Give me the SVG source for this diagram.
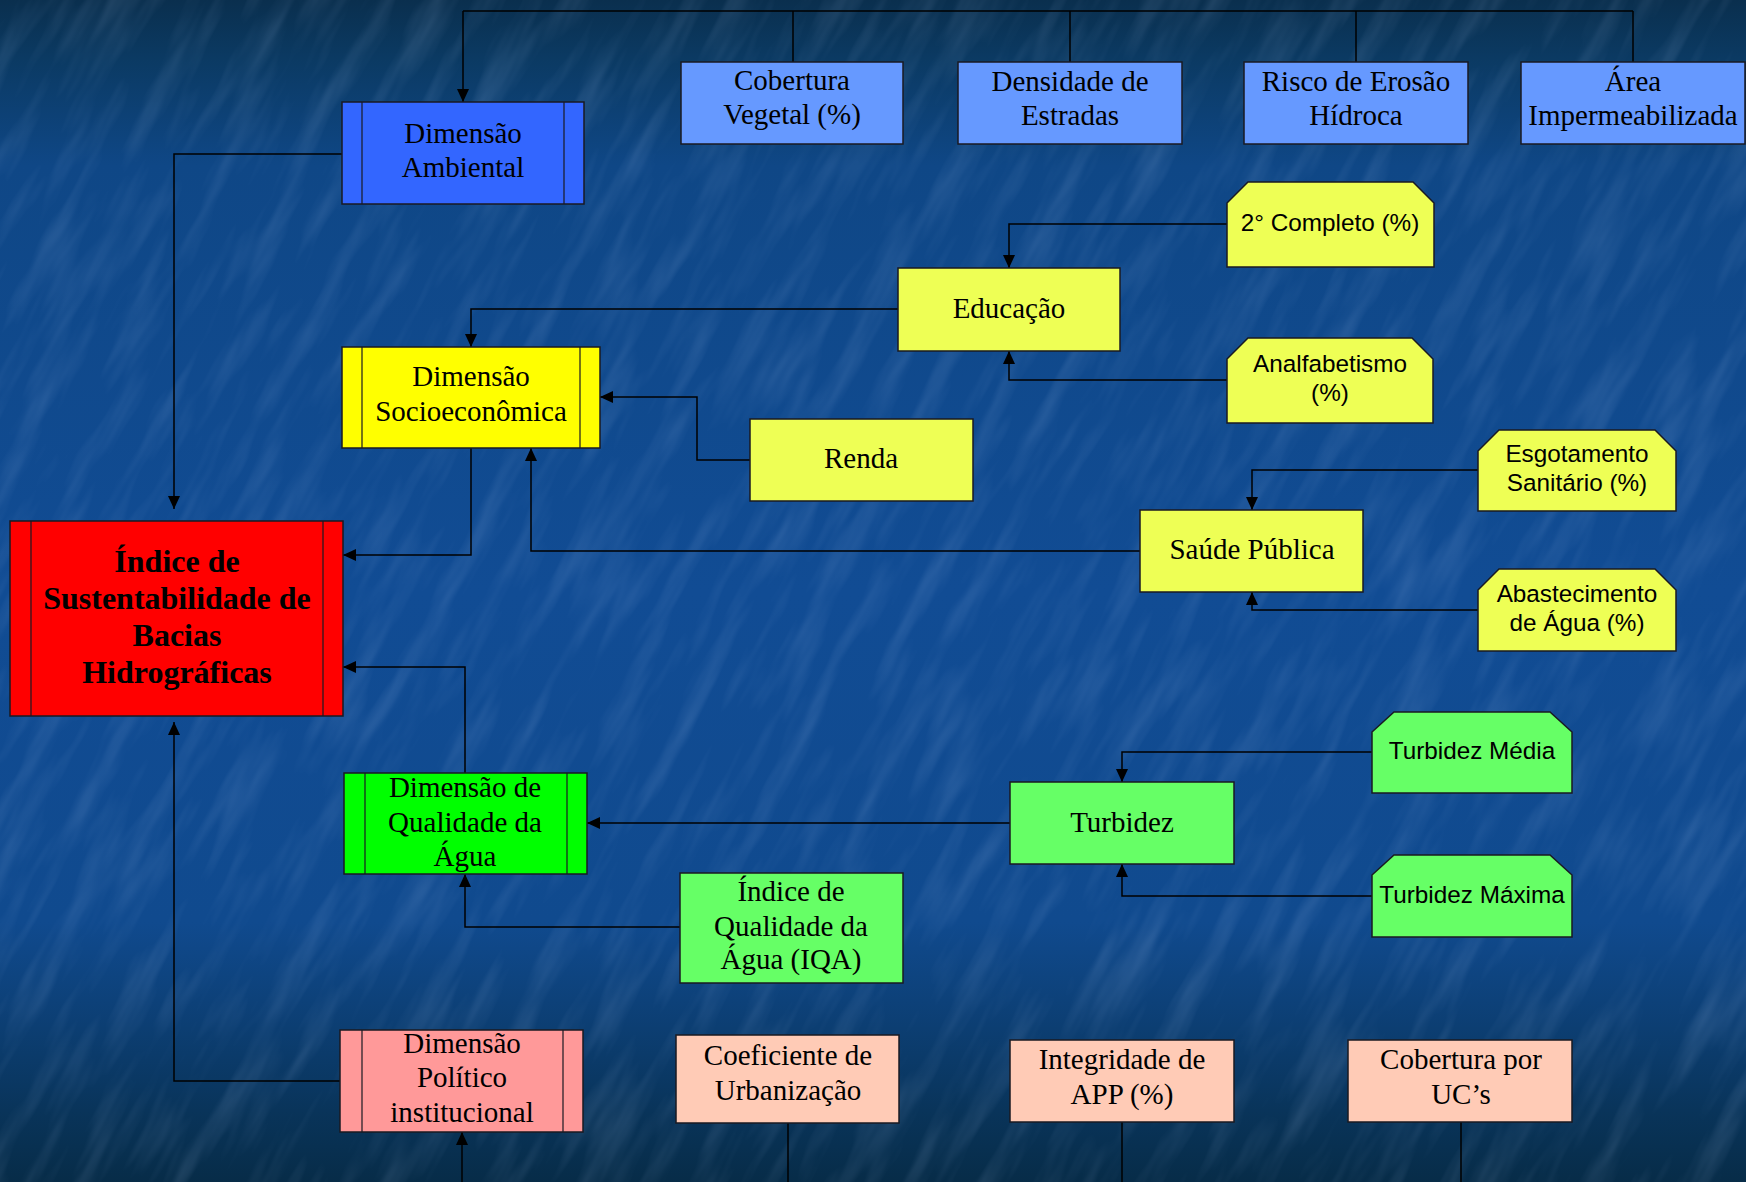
<svg xmlns="http://www.w3.org/2000/svg" width="1746" height="1182" viewBox="0 0 1746 1182">
<defs>
<linearGradient id="bg" x1="0" y1="0" x2="0" y2="1">
<stop offset="0" stop-color="#0a2f4e"/>
<stop offset="0.05" stop-color="#0b3a63"/>
<stop offset="0.14" stop-color="#0f4786"/>
<stop offset="0.5" stop-color="#114c94"/>
<stop offset="0.78" stop-color="#104a8e"/>
<stop offset="0.87" stop-color="#0c3e72"/>
<stop offset="0.94" stop-color="#09345a"/>
<stop offset="1" stop-color="#072c48"/>
</linearGradient>
<filter id="tex" x="0" y="0" width="100%" height="100%">
<feTurbulence type="fractalNoise" baseFrequency="0.045 0.008" numOctaves="3" seed="4"/>
<feColorMatrix type="matrix" values="0 0 0 0 0.55  0 0 0 0 0.7  0 0 0 0 1  0 0 0 1.4 -0.62"/>
</filter>
<marker id="ah" markerUnits="userSpaceOnUse" markerWidth="13" markerHeight="12" refX="13" refY="6" orient="auto">
<path d="M0,0 L13,6 L0,12 z" fill="#000"/>
</marker>
<style>
.box{stroke:#1a1a22;stroke-width:1.5}
.in{stroke:#1a1a22;stroke-width:1.2;fill:none}
.s{font-family:"Liberation Serif","Times New Roman",serif;font-size:29px;fill:#000;text-anchor:middle}
.b{font-family:"Liberation Serif","Times New Roman",serif;font-size:32px;font-weight:bold;fill:#000;text-anchor:middle}
.a{font-family:"Liberation Sans",Arial,sans-serif;font-size:24.3px;fill:#000;text-anchor:middle}
.c{fill:none;stroke:#000;stroke-width:1.5}
.ca{fill:none;stroke:#000;stroke-width:1.5;marker-end:url(#ah)}
</style>
</defs>
<rect width="1746" height="1182" fill="url(#bg)"/>
<g transform="rotate(28 873 591)" opacity="0.2">
<rect x="-600" y="-600" width="2946" height="2382" filter="url(#tex)"/>
</g>

<g id="connectors">
<path class="c" d="M463,11 H1633"/>
<path class="c" d="M793,11 V62 M1070,11 V62 M1356,11 V62 M1633,11 V62"/>
<path class="ca" d="M463,11 V102"/>
<path class="ca" d="M342,154 H174 V509"/>
<path class="ca" d="M471,448 V555 H343"/>
<path class="ca" d="M465,773 V667 H343"/>
<path class="ca" d="M898,309 H471 V347"/>
<path class="ca" d="M750,460 H697 V397 H600"/>
<path class="ca" d="M1140,551 H531 V448"/>
<path class="ca" d="M1227,224 H1009 V268"/>
<path class="ca" d="M1227,380 H1009 V351"/>
<path class="ca" d="M1478,470 H1252 V510"/>
<path class="ca" d="M1478,610 H1252 V592"/>
<path class="ca" d="M1010,823 H587"/>
<path class="ca" d="M680,927 H465 V874"/>
<path class="ca" d="M1372,752 H1122 V782"/>
<path class="ca" d="M1372,896 H1122 V864"/>
<path class="ca" d="M340,1081 H174 V722"/>
<path class="ca" d="M462,1182 V1132"/>
<path class="c" d="M788,1123 V1182 M1122,1122 V1182 M1461,1122 V1182"/>
</g>

<g id="cobertura-vegetal"><rect class="box" x="681" y="62" width="222" height="82" fill="#6699ff"/><text class="s" x="792" y="90">Cobertura</text><text class="s" x="792" y="124">Vegetal (%)</text></g>
<g id="densidade-estradas"><rect class="box" x="958" y="62" width="224" height="82" fill="#6699ff"/><text class="s" x="1070" y="91">Densidade de</text><text class="s" x="1070" y="125">Estradas</text></g>
<g id="risco-erosao"><rect class="box" x="1244" y="62" width="224" height="82" fill="#6699ff"/><text class="s" x="1356" y="91">Risco de Erosão</text><text class="s" x="1356" y="125">Hídroca</text></g>
<g id="area-impermeabilizada"><rect class="box" x="1521" y="62" width="224" height="82" fill="#6699ff"/><text class="s" x="1633" y="91">Área</text><text class="s" x="1633" y="125">Impermeabilizada</text></g>

<g id="dimensao-ambiental"><rect class="box" x="342" y="102" width="242" height="102" fill="#3366ff"/><path class="in" d="M362,102 V204 M564,102 V204"/><text class="s" x="463" y="143">Dimensão</text><text class="s" x="463" y="177">Ambiental</text></g>

<g id="segundo-completo"><polygon class="box" points="1248,182 1413,182 1434,203 1434,267 1227,267 1227,203" fill="#eeff55"/><text class="a" x="1330" y="231">2° Completo (%)</text></g>
<g id="educacao"><rect class="box" x="898" y="268" width="222" height="83" fill="#eeff55"/><text class="s" x="1009" y="318">Educação</text></g>
<g id="analfabetismo"><polygon class="box" points="1248,338 1412,338 1433,359 1433,423 1227,423 1227,359" fill="#eeff55"/><text class="a" x="1330" y="372">Analfabetismo</text><text class="a" x="1330" y="401">(%)</text></g>
<g id="dimensao-socioeconomica"><rect class="box" x="342" y="347" width="258" height="101" fill="#ffff00"/><path class="in" d="M362,347 V448 M580,347 V448"/><text class="s" x="471" y="386">Dimensão</text><text class="s" x="471" y="421">Socioeconômica</text></g>
<g id="renda"><rect class="box" x="750" y="419" width="223" height="82" fill="#eeff55"/><text class="s" x="861" y="468">Renda</text></g>
<g id="esgotamento"><polygon class="box" points="1499,430 1655,430 1676,451 1676,511 1478,511 1478,451" fill="#eeff55"/><text class="a" x="1577" y="462">Esgotamento</text><text class="a" x="1577" y="491">Sanitário (%)</text></g>
<g id="saude-publica"><rect class="box" x="1140" y="510" width="223" height="82" fill="#eeff55"/><text class="s" x="1252" y="559">Saúde Pública</text></g>
<g id="abastecimento"><polygon class="box" points="1499,569 1655,569 1676,590 1676,651 1478,651 1478,590" fill="#eeff55"/><text class="a" x="1577" y="602">Abastecimento</text><text class="a" x="1577" y="631">de Água (%)</text></g>

<g id="indice-sustentabilidade"><rect class="box" x="10" y="521" width="333" height="195" fill="#ff0000"/><path class="in" d="M31,521 V716 M323,521 V716"/><text class="b" x="177" y="572">Índice de</text><text class="b" x="177" y="609">Sustentabilidade de</text><text class="b" x="177" y="646">Bacias</text><text class="b" x="177" y="683">Hidrográficas</text></g>

<g id="turbidez-media"><polygon class="box" points="1394,712 1550,712 1572,732 1572,793 1372,793 1372,732" fill="#66ff66"/><text class="a" x="1472" y="759">Turbidez Média</text></g>
<g id="turbidez"><rect class="box" x="1010" y="782" width="224" height="82" fill="#66ff66"/><text class="s" x="1122" y="832">Turbidez</text></g>
<g id="turbidez-maxima"><polygon class="box" points="1394,855 1550,855 1572,875 1572,937 1372,937 1372,875" fill="#66ff66"/><text class="a" x="1472" y="903">Turbidez Máxima</text></g>
<g id="dimensao-agua"><rect class="box" x="344" y="773" width="243" height="101" fill="#00ff00"/><path class="in" d="M365,773 V874 M567,773 V874"/><text class="s" x="465" y="797">Dimensão de</text><text class="s" x="465" y="832">Qualidade da</text><text class="s" x="465" y="866">Água</text></g>
<g id="iqa"><rect class="box" x="680" y="873" width="223" height="110" fill="#66ff66"/><text class="s" x="791" y="901">Índice de</text><text class="s" x="791" y="936">Qualidade da</text><text class="s" x="791" y="969">Água (IQA)</text></g>

<g id="dimensao-politico"><rect class="box" x="340" y="1030" width="243" height="102" fill="#ff9999"/><path class="in" d="M362,1030 V1132 M563,1030 V1132"/><text class="s" x="462" y="1053">Dimensão</text><text class="s" x="462" y="1087">Político</text><text class="s" x="462" y="1122">institucional</text></g>
<g id="coeficiente-urbanizacao"><rect class="box" x="676" y="1035" width="223" height="88" fill="#ffcbb6"/><text class="s" x="788" y="1065">Coeficiente de</text><text class="s" x="788" y="1100">Urbanização</text></g>
<g id="integridade-app"><rect class="box" x="1010" y="1040" width="224" height="82" fill="#ffcbb6"/><text class="s" x="1122" y="1069">Integridade de</text><text class="s" x="1122" y="1104">APP (%)</text></g>
<g id="cobertura-ucs"><rect class="box" x="1348" y="1040" width="224" height="82" fill="#ffcbb6"/><text class="s" x="1461" y="1069">Cobertura por</text><text class="s" x="1461" y="1104">UC’s</text></g>
</svg>
